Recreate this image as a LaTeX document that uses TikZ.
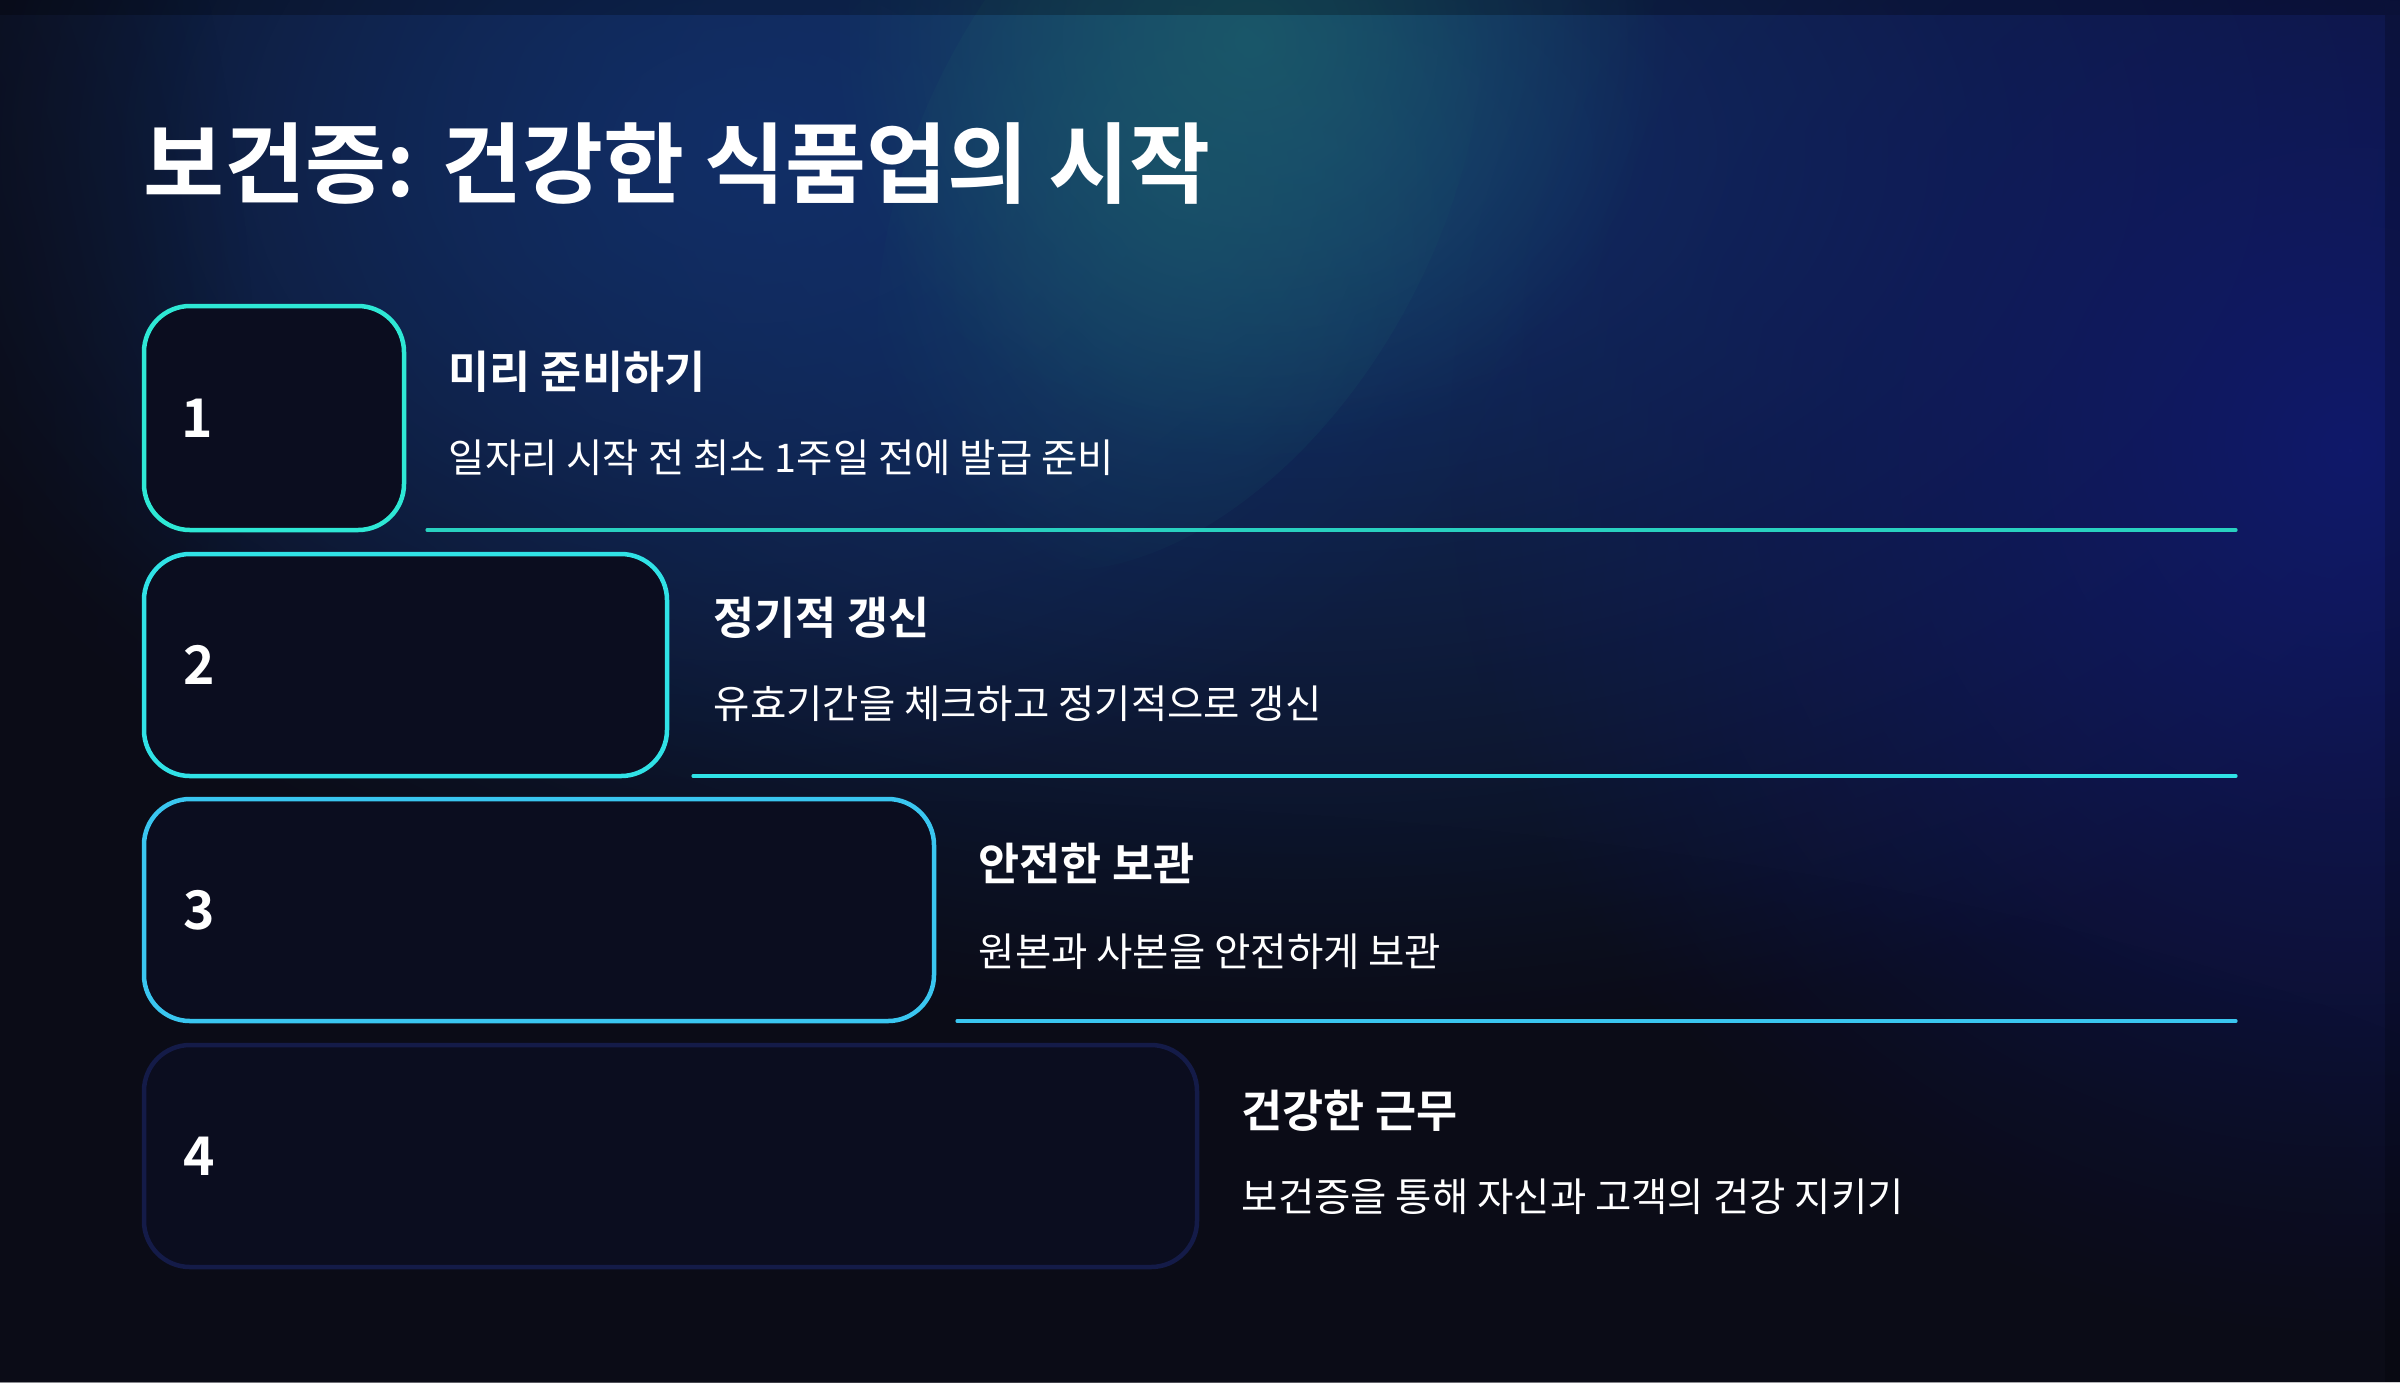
\documentclass[tikz,border=0pt]{standalone}
\usepackage{fontspec}
\newfontfamily\kr{Noto Sans CJK KR}[BoldFont={Noto Sans CJK KR Bold}]
\usetikzlibrary{fadings}
\tikzfading[name=softglow, inner color=transparent!0, outer color=transparent!100]
\definecolor{bgdark}{HTML}{0B0C17}
\definecolor{bgblue}{HTML}{10196A}
\definecolor{bgmid}{HTML}{12306A}
\definecolor{glow}{HTML}{1B5A6A}
\definecolor{boxfill}{HTML}{0B0D1F}
\definecolor{cA}{HTML}{2EE8D5}
\definecolor{cB}{HTML}{30E2E6}
\definecolor{cC}{HTML}{3AC6F0}
\definecolor{cD}{HTML}{141B48}
\tikzset{
  numbox/.style={draw, line width=1.35pt, rounded corners=13.8pt, fill=boxfill},
  numtxt/.style={text=white, font=\kr\bfseries\fontsize{16}{19}\selectfont, inner sep=0, anchor=center},
  headtxt/.style={text=white, font=\kr\bfseries\fontsize{13.4}{16}\selectfont, inner sep=0, anchor=west},
  desctxt/.style={text=white, font=\kr\fontsize{11.85}{14}\selectfont, inner sep=0, anchor=west},
  sepline/.style={line width=0.95pt, line cap=round},
}
\begin{document}
\begin{tikzpicture}[x=0.3pt,y=-0.3pt]
\useasboundingbox (0,0) rectangle (2400,1382);
% background
\fill[bgdark] (0,0) rectangle (2400,1382);
\fill[bgmid, path fading=softglow] (1300,150) ellipse [x radius=1500, y radius=900];
\fill[bgmid, path fading=softglow, opacity=0.9] (750,150) ellipse [x radius=900, y radius=650];
\fill[bgblue, path fading=softglow] (2350,450) ellipse [x radius=900, y radius=900];
\fill[glow, path fading=softglow, opacity=0.9] (1250,40) ellipse [x radius=420, y radius=420];
\fill[glow, path fading=softglow, opacity=0.55, rotate around={-28:(1180,180)}] (1180,180) ellipse [x radius=260, y radius=420];
\fill[bgdark, path fading=softglow, opacity=0.8] (-120,500) ellipse [x radius=380, y radius=1000];
\fill[bgdark, path fading=softglow, opacity=0.85] (900,1400) ellipse [x radius=1900, y radius=600];
\fill[black, opacity=0.25] (0,0) rectangle (2400,15);
\fill[black, opacity=0.2] (2385,15) rectangle (2400,1382);
% title
\node[text=white, font=\kr\bfseries\fontsize{26.4}{31}\selectfont, inner sep=0, anchor=west] (title) at (143,164) {보건증: 건강한 식품업의 시작};
% boxes
\draw[numbox, draw=cA] (144,306) rectangle (404,530);
\draw[numbox, draw=cB] (144,554) rectangle (667,776);
\draw[numbox, draw=cC] (144,799) rectangle (934,1021);
\draw[numbox, draw=cD] (144,1045) rectangle (1197,1267);
\node[numtxt] (n1) at (197,418) {1};
\node[numtxt] (n2) at (199,665) {2};
\node[numtxt] (n3) at (199,910) {3};
\node[numtxt] (n4) at (199,1156) {4};
% texts
\node[headtxt] (h1) at (448,372) {미리 준비하기};
\node[desctxt] (d1) at (448,458) {일자리 시작 전 최소 1주일 전에 발급 준비};
\node[headtxt] (h2) at (713,618) {정기적 갱신};
\node[desctxt] (d2) at (713,704) {유효기간을 체크하고 정기적으로 갱신};
\node[headtxt] (h3) at (978,863) {안전한 보관};
\node[desctxt] (d3) at (978,952) {원본과 사본을 안전하게 보관};
\node[headtxt] (h4) at (1241,1111) {건강한 근무};
\node[desctxt] (d4) at (1241,1197) {보건증을 통해 자신과 고객의 건강 지키기};
% separator lines
\coordinate (l1a) at (427,530); \coordinate (l1b) at (2236,530);
\coordinate (l2a) at (693,776); \coordinate (l2b) at (2236,776);
\coordinate (l3a) at (957,1021); \coordinate (l3b) at (2236,1021);
\draw[sepline, draw=cA!90!black] (l1a) -- (l1b);
\draw[sepline, draw=cB] (l2a) -- (l2b);
\draw[sepline, draw=cC] (l3a) -- (l3b);
\end{tikzpicture}
\end{document}
